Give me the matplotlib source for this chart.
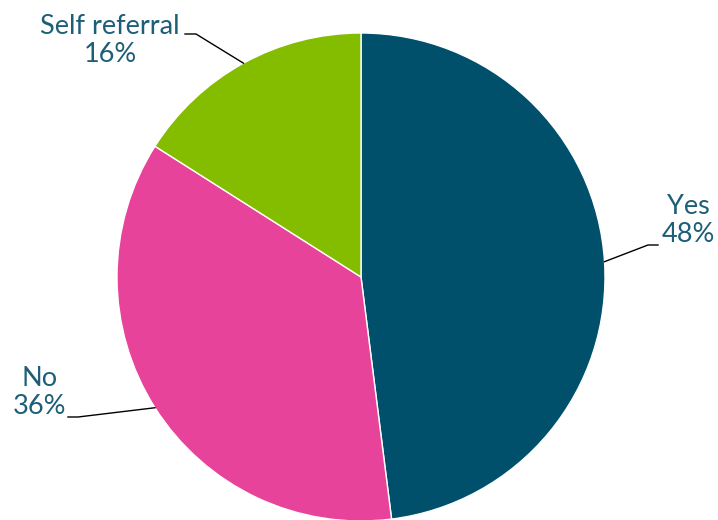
import numpy as np
import matplotlib.pyplot as plt

labels = ['Yes', 'No', 'Self referral']
values = [48, 36, 16]
colors = ['#00506B', '#E8439A', '#84BC00']
text_color = '#1E5F78'

W, H = 718, 520
cx, cy, r = 361, 277, 244

fig = plt.figure(figsize=(W / 100, H / 100), dpi=100)
ax = fig.add_axes([(cx - r) / W, (H - cy - r) / H, 2 * r / W, 2 * r / H])
ax.pie(values, colors=colors, startangle=90, counterclock=False,
       wedgeprops=dict(linewidth=1, edgecolor='white'))
ax.set_xlim(-1, 1)
ax.set_ylim(-1, 1)
ax.set_aspect('equal')
ax.axis('off')


def px(x, y):
    # pixel position -> pie data coords
    return (x - cx) / r, (cy - y) / r


# mid angles of wedges, clockwise from top
angles = []
start = 90.0
for v in values:
    span = 360.0 * v / sum(values)
    angles.append(start - span / 2)
    start -= span

# label text centre (pixels) and leader elbow points (pixels)
label_pos = [(688, 221), (40, 393), (110, 40)]
elbows = [[(658, 245), (648, 245)], [(68, 417), (78, 417)], [(185, 34), (196, 34)]]

for lab, v, a, (tx, ty), elb in zip(labels, values, angles, label_pos, elbows):
    ex, ey = np.cos(np.radians(a)), np.sin(np.radians(a))
    pts = [px(*p) for p in elb] + [(ex, ey)]
    xs, ys = zip(*pts)
    ax.plot(xs, ys, color='black', lw=1, clip_on=False)
    x, y = px(tx, ty)
    ax.text(x, y, f'{lab}\n{v}%', ha='center', va='center', fontsize=19.5,
            color=text_color, family='Lato', linespacing=1.15, clip_on=False)

fig.savefig('out.png', dpi=100)
